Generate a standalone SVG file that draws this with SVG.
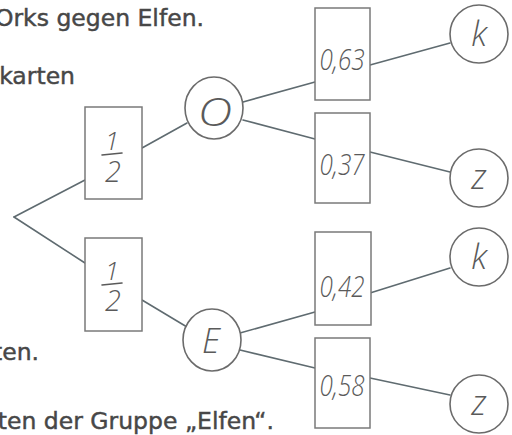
<svg xmlns="http://www.w3.org/2000/svg" width="512" height="435" viewBox="0 0 512 435">
  <style>
    .txt { font-family: "DejaVu Sans", Verdana, sans-serif; font-size: 23.5px; fill: #474747; stroke: #474747; stroke-width: 0.45; text-anchor: end; }
    .box { fill: #ffffff; stroke: #7a7a7a; stroke-width: 1.5; }
    .ring { fill: #ffffff; stroke: #6b6b6b; stroke-width: 1.6; }
    .hand { font-family: "Open Sans", "DejaVu Sans", sans-serif; font-style: italic; font-weight: 300; fill: #5a5a5a; text-anchor: middle; }
    .bar { stroke: #5a5a5a; stroke-width: 1.6; stroke-linecap: round; }
    #connectors line { stroke: #5f6b70; stroke-width: 1.6; stroke-linecap: round; }
  </style>
  <rect width="512" height="435" fill="#ffffff"/>

  <!-- surrounding exercise text -->
  <text class="txt" x="204" y="26">Orks gegen Elfen.</text>
  <text class="txt" x="75" y="84">karten</text>
  <text class="txt" x="39" y="360">ten.</text>
  <text class="txt" x="274" y="429">ten der Gruppe „Elfen“.</text>

  <!-- branches -->
  <g id="connectors">
    <line x1="14" y1="217" x2="85" y2="180"/>
    <line x1="14" y1="217" x2="85" y2="263"/>
    <line x1="142" y1="148" x2="187" y2="123"/>
    <line x1="142" y1="300" x2="187" y2="327"/>
    <line x1="243" y1="102" x2="315" y2="82"/>
    <line x1="243" y1="120" x2="315" y2="139"/>
    <line x1="240" y1="333" x2="315" y2="312"/>
    <line x1="240" y1="350" x2="315" y2="368"/>
    <line x1="370" y1="65" x2="450" y2="43"/>
    <line x1="370" y1="152" x2="450" y2="172"/>
    <line x1="370" y1="293" x2="450" y2="268"/>
    <line x1="370" y1="378" x2="450" y2="395"/>
  </g>

  <!-- first stage: group probabilities -->
  <g id="p-orks">
    <rect class="box" x="85" y="107" width="57" height="92"/>
    <text class="hand" x="112" y="150" font-size="26">1</text>
    <line class="bar" x1="102" y1="155" x2="122" y2="153"/>
    <text class="hand" x="113" y="182" font-size="29">2</text>
  </g>
  <g id="p-elfen">
    <rect class="box" x="85" y="238" width="57" height="93"/>
    <text class="hand" x="112" y="280" font-size="26">1</text>
    <line class="bar" x1="102" y1="285" x2="122" y2="283"/>
    <text class="hand" x="113" y="311" font-size="29">2</text>
  </g>

  <!-- group nodes -->
  <g id="node-o">
    <ellipse class="ring" cx="214" cy="108" rx="29" ry="31"/>
    <text class="hand" font-size="40" font-style="normal" transform="translate(215 126) scale(1.2 0.95)" x="0" y="0">O</text>
  </g>
  <g id="node-e">
    <ellipse class="ring" cx="212" cy="340" rx="29" ry="31"/>
    <text class="hand" x="211" y="353" font-size="34">E</text>
  </g>

  <!-- second stage: conditional probabilities -->
  <g id="p-o-k">
    <rect class="box" x="315" y="8" width="55" height="92"/>
    <text class="hand" x="342" y="70" font-size="30" textLength="45" lengthAdjust="spacingAndGlyphs">0,63</text>
  </g>
  <g id="p-o-z">
    <rect class="box" x="315" y="113" width="55" height="90"/>
    <text class="hand" x="342" y="175" font-size="30" textLength="45" lengthAdjust="spacingAndGlyphs">0,37</text>
  </g>
  <g id="p-e-k">
    <rect class="box" x="315" y="232" width="56" height="93"/>
    <text class="hand" x="342" y="297" font-size="30" textLength="45" lengthAdjust="spacingAndGlyphs">0,42</text>
  </g>
  <g id="p-e-z">
    <rect class="box" x="315" y="338" width="55" height="90"/>
    <text class="hand" x="342" y="396" font-size="30" textLength="45" lengthAdjust="spacingAndGlyphs">0,58</text>
  </g>

  <!-- outcomes -->
  <g id="leaf-o-k">
    <circle class="ring" cx="479" cy="34" r="29"/>
    <text class="hand" x="479" y="46" font-size="34">k</text>
  </g>
  <g id="leaf-o-z">
    <circle class="ring" cx="479" cy="178" r="29"/>
    <text class="hand" x="479" y="189" font-size="34">z</text>
  </g>
  <g id="leaf-e-k">
    <circle class="ring" cx="479" cy="257" r="29"/>
    <text class="hand" x="479" y="269" font-size="34">k</text>
  </g>
  <g id="leaf-e-z">
    <circle class="ring" cx="479" cy="404" r="29"/>
    <text class="hand" x="479" y="415" font-size="34">z</text>
  </g>
</svg>
